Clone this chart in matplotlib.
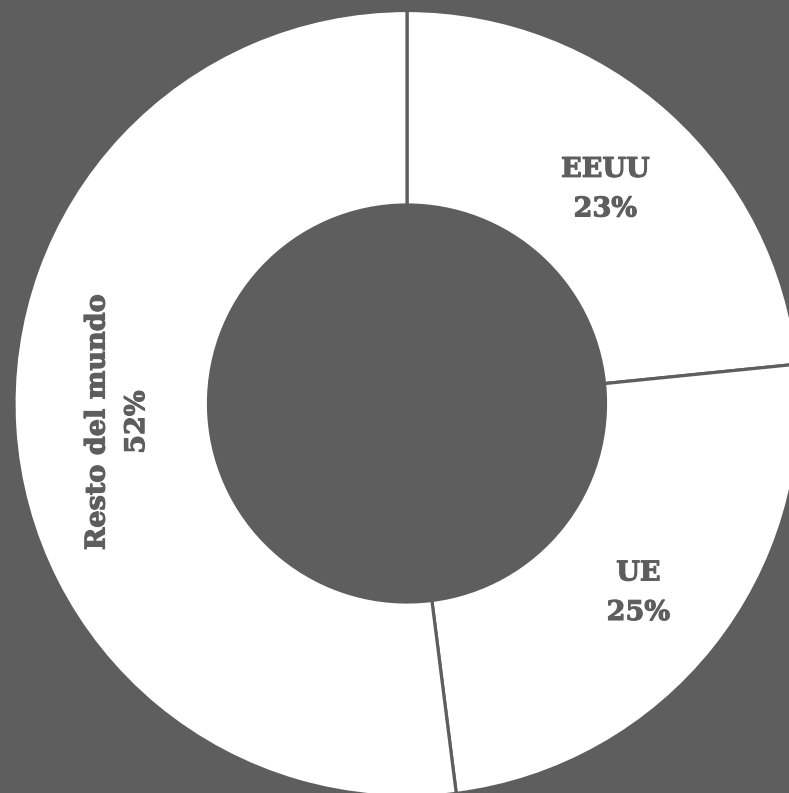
import numpy as np
import matplotlib.pyplot as plt
import matplotlib.patheffects as pe

# Data
labels = ["EEUU", "UE", "Resto del mundo"]
shares = [23.4, 24.6, 52.0]
label_pct = ["23%", "25%", "52%"]

BG = "#5e5e5e"
W, H = 789, 793
cx, cy = 407, 403.5
R_OUT, R_IN = 393, 198.5

fig = plt.figure(figsize=(W / 100, H / 100), dpi=100, facecolor=BG)
ax = fig.add_axes([0, 0, 1, 1])
ax.set_facecolor(BG)
ax.axis("off")

wedges, _ = ax.pie(
    shares,
    startangle=90,
    counterclock=False,
    radius=R_OUT,
    colors=["white"] * len(shares),
    wedgeprops=dict(width=R_OUT - R_IN, edgecolor=BG, linewidth=2.3),
)
ax.set_xlim(-cx, W - cx)
ax.set_ylim(-(H - cy), cy)
ax.set_aspect("equal")

# labels in the middle of the ring (1 data unit = 1 pixel)
mid_r = (R_OUT + R_IN) / 2
for w, lab, pct in zip(wedges, labels, label_pct):
    ang = np.deg2rad((w.theta1 + w.theta2) / 2)
    rot = 90 if lab == "Resto del mundo" else 0
    # nudge a little "down" in the text's own frame
    r = np.deg2rad(rot)
    x = mid_r * np.cos(ang) + 5 * np.sin(r)
    y = mid_r * np.sin(ang) - 5 * np.cos(r)
    ax.text(x, y, f"{lab}\n{pct}", ha="center", va="center", rotation=rot,
            rotation_mode="anchor", fontsize=19.5, fontweight="bold",
            family="DejaVu Serif", color=BG, linespacing=1.6,
            path_effects=[pe.withStroke(linewidth=0.8, foreground=BG)])

fig.savefig("out.png", dpi=100, facecolor=BG)
